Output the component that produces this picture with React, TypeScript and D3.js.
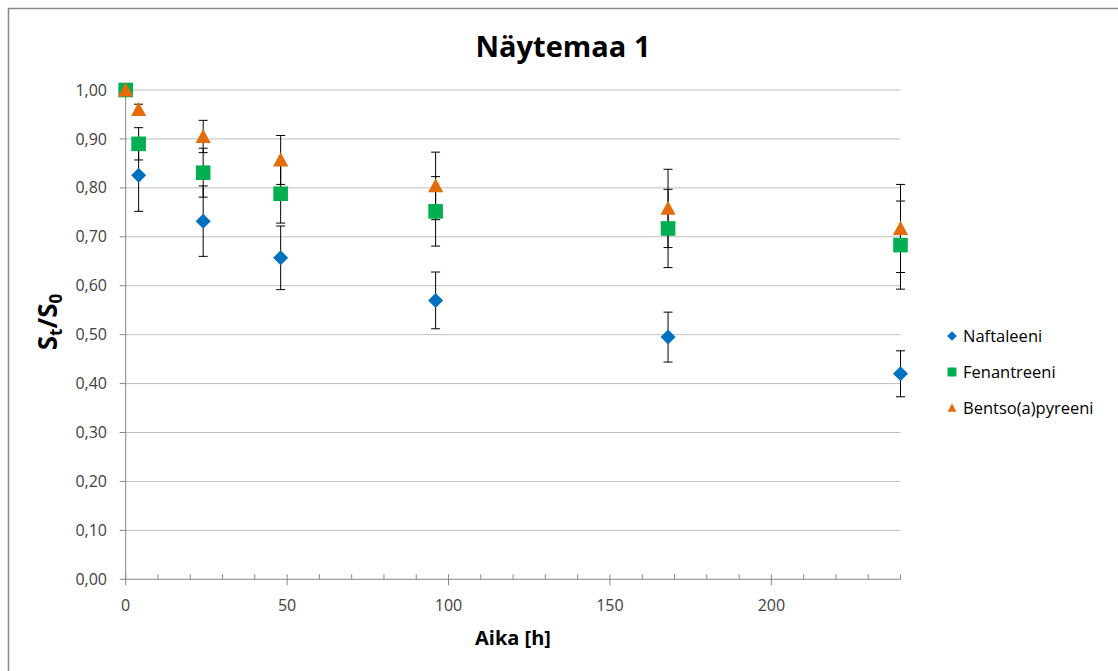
import React from "react";
import { scaleLinear, range } from "d3";

// aika (h)
const times = [0, 4, 24, 48, 96, 168, 240];

const naftaleeni = [1.0, 0.826, 0.732, 0.657, 0.57, 0.495, 0.42];
const naftaleeniErr = [0, 0.074, 0.072, 0.065, 0.058, 0.051, 0.047];

const fenantreeni = [1.0, 0.89, 0.831, 0.788, 0.752, 0.717, 0.683];
const fenantreeniErr = [0, 0.033, 0.05, 0.06, 0.071, 0.08, 0.09];

const bentso = [1.0, 0.96, 0.905, 0.857, 0.804, 0.758, 0.717];
const bentsoErr = [0, 0.011, 0.033, 0.05, 0.069, 0.08, 0.09];

const seriesNames = ["Naftaleeni", "Fenantreeni", "Bentso(a)pyreeni"];
const xTickValues = [0, 50, 100, 150, 200];
const yTickValues = range(0, 11).map((d) => d / 10);

const colors = ["#0070C0", "#00B050", "#E46C0A"];
const font = "'Open Sans', sans-serif";

const W = 1118;
const H = 671;

const marker = (kind: number, x: number, y: number, s: number) => {
  if (kind === 0) {
    return `M${x},${y - s}L${x + s},${y}L${x},${y + s}L${x - s},${y}Z`;
  }
  if (kind === 1) {
    return `M${x - s},${y - s}h${2 * s}v${2 * s}h${-2 * s}Z`;
  }
  return `M${x},${y - s}L${x + s},${y + s * 0.85}L${x - s},${y + s * 0.85}Z`;
};

export default function App() {
  const x = scaleLinear().domain([0, 240]).range([125.7, 900.5]);
  const y = scaleLinear().domain([0, 1]).range([579.3, 90]);

  const series = [
    { name: seriesNames[0], values: naftaleeni, err: naftaleeniErr },
    { name: seriesNames[1], values: fenantreeni, err: fenantreeniErr },
    { name: seriesNames[2], values: bentso, err: bentsoErr },
  ];

  const minorTicks = range(10, 241, 10).filter((d) => d % 50 !== 0);
  const x0 = x(0);
  const y0 = y(0);
  const markerSize = [7.5, 7.3, 7.6];

  return (
    <svg
      width={W}
      height={H}
      style={{ position: "absolute", left: 0, top: 0, background: "#fff" }}
    >
      <rect
        x={8.5}
        y={8.5}
        width={1130}
        height={700}
        fill="#fff"
        stroke="#878787"
        strokeWidth={1.5}
      />
      <text
        x={563}
        y={57}
        textAnchor="middle"
        fontFamily={font}
        fontWeight="bold"
        fontSize={29}
        fill="#000"
      >
        Näytemaa 1
      </text>

      {/* gridlines */}
      {yTickValues
        .filter((d) => d > 0)
        .map((d) => (
          <line
            key={"g" + d}
            x1={x0}
            x2={x(240)}
            y1={y(d)}
            y2={y(d)}
            stroke="#BFBFBF"
            strokeWidth={1}
          />
        ))}

      {/* axes */}
      <line x1={x0} x2={x0} y1={y(1)} y2={y0} stroke="#868686" strokeWidth={1} />
      <line x1={x0} x2={x(240)} y1={y0} y2={y0} stroke="#868686" strokeWidth={1} />
      {yTickValues.map((d) => (
        <g key={"yt" + d}>
          <line x1={x0 - 6} x2={x0} y1={y(d)} y2={y(d)} stroke="#868686" />
          <text
            x={107}
            y={y(d)}
            dy="0.35em"
            textAnchor="end"
            fontFamily={font}
            fontSize={16}
            fill="#404040"
          >
            {d.toFixed(2).replace(".", ",")}
          </text>
        </g>
      ))}
      {minorTicks.map((d) => (
        <line
          key={"mt" + d}
          x1={x(d)}
          x2={x(d)}
          y1={y0 - 5}
          y2={y0}
          stroke="#868686"
        />
      ))}
      {xTickValues.map((d) => (
        <g key={"xt" + d}>
          <line x1={x(d)} x2={x(d)} y1={y0 - 5} y2={y0 + 6} stroke="#868686" />
          <text
            x={x(d)}
            y={605}
            dy="0.35em"
            textAnchor="middle"
            fontFamily={font}
            fontSize={16}
            fill="#404040"
          >
            {d}
          </text>
        </g>
      ))}

      {/* error bars */}
      {series.map((s, si) =>
        s.values.map((v, i) =>
          s.err[i] > 0 ? (
            <g key={"e" + si + "-" + i} stroke="#000" strokeWidth={1}>
              <line
                x1={x(times[i])}
                x2={x(times[i])}
                y1={y(v + s.err[i])}
                y2={y(v - s.err[i])}
              />
              <line
                x1={x(times[i]) - 4.5}
                x2={x(times[i]) + 4.5}
                y1={y(v + s.err[i])}
                y2={y(v + s.err[i])}
              />
              <line
                x1={x(times[i]) - 4.5}
                x2={x(times[i]) + 4.5}
                y1={y(v - s.err[i])}
                y2={y(v - s.err[i])}
              />
            </g>
          ) : null
        )
      )}

      {/* markers */}
      {series.map((s, si) =>
        s.values.map((v, i) => (
          <path
            key={"m" + si + "-" + i}
            d={marker(si, x(times[i]), y(v), markerSize[si])}
            fill={colors[si]}
          />
        ))
      )}

      {/* legend */}
      {series.map((s, si) => {
        const ly = 336 + si * 36;
        return (
          <g key={"l" + si}>
            <path d={marker(si, 952, ly, si === 0 ? 4.8 : 4.5)} fill={colors[si]} />
            <text
              x={963}
              y={ly}
              dy="0.35em"
              fontFamily={font}
              fontSize={16.5}
              fill="#000"
            >
              {s.name}
            </text>
          </g>
        );
      })}

      {/* axis titles */}
      <text
        x={513}
        y={645}
        textAnchor="middle"
        fontFamily={font}
        fontWeight="bold"
        fontSize={20}
        fill="#000"
      >
        Aika [h]
      </text>
      <text
        transform="translate(57,322) rotate(-90)"
        textAnchor="middle"
        fontFamily={font}
        fontWeight="bold"
        fontSize={26}
        fill="#000"
      >
        S<tspan fontSize={17} dy={5}>t</tspan>
        <tspan dy={-5}>/S</tspan>
        <tspan fontSize={17} dy={5}>0</tspan>
      </text>
    </svg>
  );
}
